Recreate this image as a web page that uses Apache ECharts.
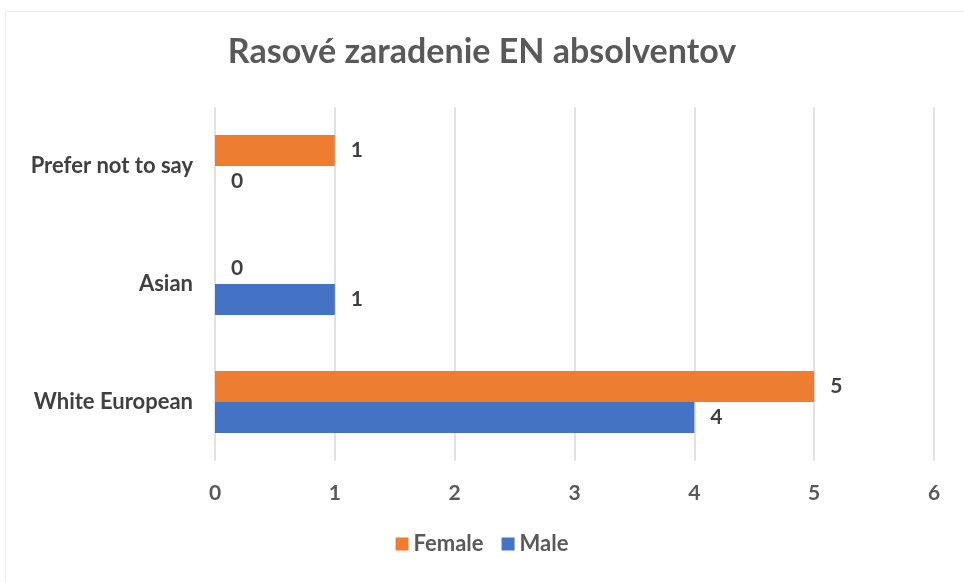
<!DOCTYPE html>
<html>
<head>
<meta charset="utf-8">
<script src="https://cdn.jsdelivr.net/npm/echarts@6/dist/echarts.min.js"></script>
<style>
  html, body { margin: 0; padding: 0; background: #fff; }
  #frame { position: absolute; left: 5px; top: 11px; width: 980px; height: 600px; border: 1px solid #eeeeee; }
  #chart { position: absolute; left: 0; top: 0; width: 964px; height: 582px; }
</style>
</head>
<body>
<div id="frame"></div>
<div id="chart"></div>
<script>
var categories = ['White European', 'Asian', 'Prefer not to say'];
var maleValues = [4, 1, 0];
var femaleValues = [5, 0, 1];
var titleText = 'Rasové zaradenie EN absolventov';

var font = 'Lato, "Open Sans", sans-serif';
var labelStyle = {
    show: true,
    position: 'right',
    distance: 16,
    color: '#404040',
    fontSize: 21,
    fontWeight: 'bold',
    fontFamily: font
};

var chart = echarts.init(document.getElementById('chart'));
chart.setOption({
    animation: false,
    title: {
        text: titleText,
        left: 'center',
        top: 30,
        textStyle: { color: '#595959', fontSize: 34, fontWeight: 'bold', fontFamily: font }
    },
    legend: {
        data: ['Female', 'Male'],
        bottom: 22,
        left: 'center',
        itemWidth: 13,
        itemHeight: 13,
        itemGap: 18,
        icon: 'rect',
        textStyle: { color: '#595959', fontSize: 22, fontWeight: 'bold', fontFamily: font }
    },
    grid: { left: 215, right: 30, top: 107, bottom: 121, containLabel: false },
    xAxis: {
        type: 'value',
        min: 0,
        max: 6,
        interval: 1,
        axisLine: { show: false },
        axisTick: { show: false },
        splitLine: { lineStyle: { color: '#d9d9d9', width: 1.5 } },
        axisLabel: { color: '#595959', fontSize: 21, fontWeight: 'bold', fontFamily: font, margin: 22 }
    },
    yAxis: {
        type: 'category',
        data: categories,
        axisLine: { show: false },
        axisTick: { show: false },
        axisLabel: { color: '#404040', fontSize: 22, fontWeight: 'bold', fontFamily: font, margin: 22 }
    },
    series: [
        {
            name: 'Female',
            type: 'bar',
            data: femaleValues,
            barWidth: 31,
            barGap: '0%',
            itemStyle: { color: '#ED7D31' },
            label: labelStyle
        },
        {
            name: 'Male',
            type: 'bar',
            data: maleValues,
            barWidth: 31,
            barGap: '0%',
            itemStyle: { color: '#4472C4' },
            label: labelStyle
        }
    ]
});
</script>
</body>
</html>
